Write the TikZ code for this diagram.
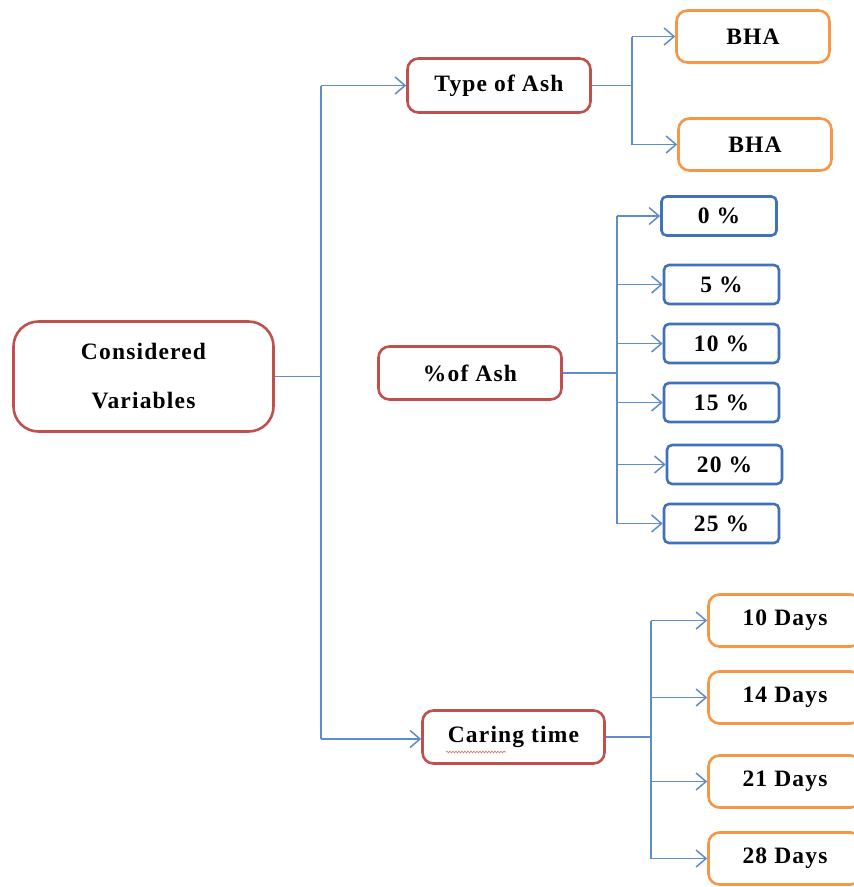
\documentclass[tikz,border=0pt]{standalone}
\usepackage{fontspec}
\setmainfont{Liberation Serif}[LetterSpace=5]
\usetikzlibrary{arrows.meta,decorations.pathmorphing}
\definecolor{redb}{RGB}{192,80,77}
\definecolor{orangeb}{RGB}{247,150,70}
\definecolor{blueb}{RGB}{65,113,185}
\definecolor{linec}{RGB}{95,140,202}
\begin{document}
\begin{tikzpicture}[x=1pt,y=-1pt,
  box/.style={draw, line width=2.6pt, fill=white, inner sep=0pt,
    font=\fontsize{23.5}{49}\selectfont\bfseries, align=center},
  redbox/.style={box, draw=redb, rounded corners=11pt},
  orbox/.style={box, draw=orangeb, rounded corners=11pt, minimum width=153pt, minimum height=52pt},
  bluebox/.style={box, draw=blueb, rounded corners=5pt, minimum width=115pt, minimum height=39pt},
  conn/.style={draw=linec, line width=1.7pt},
  arr/.style={conn, -{Straight Barb[length=10pt,width=17pt,line width=1.5pt]}}]
\clip (0,0) rectangle (854,887);
\fill[white] (0,0) rectangle (854,887);

% main nodes
\node[redbox, rounded corners=25pt, minimum width=260pt, minimum height=110pt] (cv) at (143.5,376.5) {Considered\\Variables};
\node[redbox, minimum width=183pt, minimum height=54pt] (toa) at (499,85.5) {Type of Ash};
\node[redbox, minimum width=183pt, minimum height=53pt] (poa) at (470,373) {\%of Ash};
\node[redbox, minimum width=182pt, minimum height=53pt] (ct) at (513.5,737) {Caring time};

% type of ash children
\node[orbox] (bha1) at (753,36.5) {BHA};
\node[orbox] (bha2) at (755,144.5) {BHA};

% percent children
\node[bluebox] (p0) at (719,216) {0 \%};
\node[bluebox] (p5) at (721.5,284.5) {5 \%};
\node[bluebox] (p10) at (721.5,343.5) {10 \%};
\node[bluebox] (p15) at (721.5,402.5) {15 \%};
\node[bluebox] (p20) at (724.5,464.5) {20 \%};
\node[bluebox] (p25) at (721.5,523.5) {25 \%};

% days children
\node[orbox] (d10) at (785,620.5) {10 Days};
\node[orbox] (d14) at (785,697.5) {14 Days};
\node[orbox] (d21) at (785,781.5) {21 Days};
\node[orbox] (d28) at (785,858.5) {28 Days};

% trunk
\coordinate (t1) at (321,85.5);
\coordinate (t2) at (321,739);
\draw[conn] (cv.east) -- (cv.east -| t1);
\draw[conn] (t1) -- (t2);
\draw[arr] (t1) -- (toa.west);
\draw[arr] (t2) -- (t2 -| ct.west);

% type of ash branch
\coordinate (b1) at (632,85.5);
\draw[conn] (toa.east) -- (b1);
\draw[conn] (b1 |- bha1.west) -- (b1 |- bha2.west);
\draw[arr] (b1 |- bha1.west) -- (bha1.west);
\draw[arr] (b1 |- bha2.west) -- (bha2.west);

% percent branch
\coordinate (b2) at (617,373);
\draw[conn] (poa.east) -- (b2);
\draw[conn] (b2 |- p0.west) -- (b2 |- p25.west);
\foreach \n in {p0,p5,p10,p15,p20,p25}{
  \draw[arr] (b2 |- \n.west) -- (\n.west);
}

% days branch
\coordinate (b3) at (651,737);
\draw[conn] (ct.east) -- (b3);
\draw[conn] (b3 |- d10.west) -- (b3 |- d28.west);
\foreach \n in {d10,d14,d21,d28}{
  \draw[arr] (b3 |- \n.west) -- (\n.west);
}

% spell-check squiggle under "Caring"
\draw[redb!80, line width=0.6pt, decorate, decoration={snake, amplitude=0.9pt, segment length=3pt}]
  (446,752) -- (506,752);
\end{tikzpicture}
\end{document}
